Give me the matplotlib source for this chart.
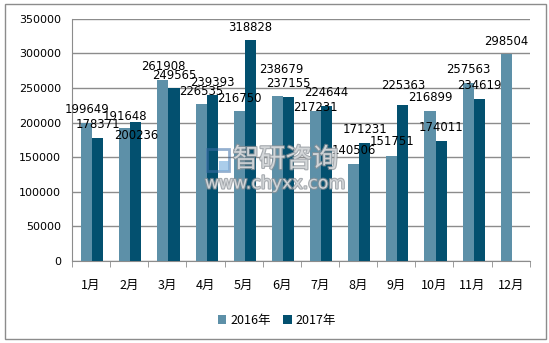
"""Monthly comparison bar chart, 2016 vs 2017."""

import matplotlib

matplotlib.use("Agg")
import matplotlib.patheffects as pe
import matplotlib.pyplot as plt
import numpy as np
from matplotlib.patches import Rectangle

plt.rcParams["font.family"] = ["Noto Sans CJK SC", "DejaVu Sans"]

MONTHS = ["1月", "2月", "3月", "4月", "5月", "6月", "7月", "8月", "9月", "10月", "11月", "12月"]
VALUES_2016 = [199649, 191648, 261908, 226535, 216750, 238679, 217231, 140506, 151751, 216899, 257563, 298504]
VALUES_2017 = [178371, 200236, 249565, 239393, 318828, 237155, 224644, 171231, 225363, 174011, 234619, None]
SERIES = ["2016年", "2017年"]
COLORS = ["#5d90a8", "#03506f"]

# label placement quirks (pixels from bar top), default is 13 px above
LABEL_SHIFT = {
    (0, 1): (0, 11.5), (0, 5): (4, 26), (0, 6): (0, 3.5), (0, 8): (0, 15),
    (1, 1): (0, -13), (1, 8): (0, 20),
}


def main() -> None:
    fig = plt.figure(figsize=(5.49, 3.43), dpi=100)
    fig.patches.append(
        Rectangle((0.009, 0.012), 0.985, 0.975, transform=fig.transFigure,
                  fill=False, edgecolor="#8c8c8c", linewidth=1.0)
    )
    ax = fig.add_axes([0.131, 0.239, 0.834, 0.706])

    xs = np.arange(len(MONTHS))
    width = 0.29
    for idx, (values, label, color) in enumerate(zip([VALUES_2016, VALUES_2017], SERIES, COLORS)):
        offset = (idx - 0.5) * width + 0.03
        pos = [x + offset for x, v in zip(xs, values) if v is not None]
        vals = [v for v in values if v is not None]
        months = [m for m, v in enumerate(values) if v is not None]
        ax.bar(pos, vals, width=width, color=color, label=label, zorder=3)
        for m, p, v in zip(months, pos, vals):
            dx, dy = LABEL_SHIFT.get((idx, m), (0, 13))
            ax.annotate(str(v), (p, v), xytext=(dx, dy), textcoords="offset pixels",
                        ha="center", va="center", fontsize=8.4,
                        family="DejaVu Sans", zorder=6)

    ax.set_xlim(-0.5, len(MONTHS) - 0.5)
    ax.set_ylim(0, 350000)
    ax.set_yticks(range(0, 350001, 50000))
    ax.set_yticklabels([str(v) for v in range(0, 350001, 50000)], fontsize=8, family="DejaVu Sans")
    ax.set_xticks(xs)
    ax.set_xticklabels(MONTHS, fontsize=9)
    ax.set_xticks(np.arange(-0.5, len(MONTHS), 1.0), minor=True)
    ax.tick_params(axis="x", which="major", length=0, pad=13)
    ax.tick_params(axis="x", which="minor", length=4, color="#8c8c8c", direction="out")
    ax.tick_params(axis="y", length=0, pad=8)

    ax.grid(axis="y", color="#8c8c8c", linewidth=1.0, zorder=0)
    for side in ["top", "right"]:
        ax.spines[side].set_visible(False)
    ax.spines["left"].set_color("#8c8c8c")
    ax.spines["bottom"].set_color("#8c8c8c")

    # watermark
    outline = [pe.withStroke(linewidth=1.6, foreground="#8a9096")]
    fig.text(0.424, 0.535, "智研咨询", fontsize=19, color="#e4e6e8", alpha=0.75,
             ha="left", va="center", zorder=4, path_effects=outline)
    fig.text(0.373, 0.465, "www.chyxx.com", fontsize=12.5, color="#e4e6e8", alpha=0.75,
             ha="left", va="center", family="DejaVu Sans", zorder=4, path_effects=outline)
    fig.patches.append(
        Rectangle((0.377, 0.502), 0.04, 0.064, transform=fig.transFigure,
                  fill=False, edgecolor="#3d6fa8", alpha=0.55, linewidth=2.0, zorder=4)
    )
    fig.patches.append(
        Rectangle((0.398, 0.502), 0.019, 0.03, transform=fig.transFigure,
                  facecolor="#7fb2e0", alpha=0.65, linewidth=0, zorder=4)
    )

    fig.legend(*ax.get_legend_handles_labels(), loc="center", bbox_to_anchor=(0.504, 0.067),
               ncol=2, frameon=False, fontsize=9, handlelength=0.7, handleheight=0.7,
               handletextpad=0.3, columnspacing=1.0)

    fig.savefig("out.png", dpi=100)
    plt.close(fig)


if __name__ == "__main__":
    main()
